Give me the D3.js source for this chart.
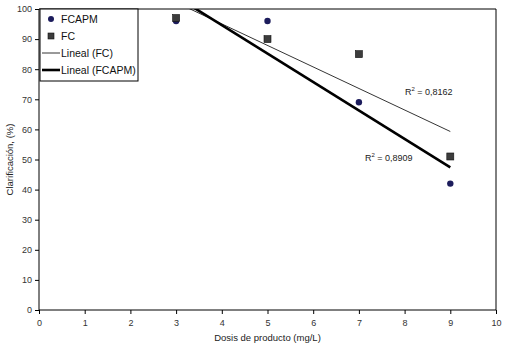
<!DOCTYPE html>
<html>
<head>
<meta charset="utf-8">
<script src="https://cdn.jsdelivr.net/npm/d3@7"></script>
<style>
  body { margin: 0; background: #fff; }
  svg { font-family: "Liberation Sans", Arial, sans-serif; }
  .axis text { font-size: 9px; fill: #333; }
  .axis path, .axis line { stroke: #000; }
</style>
</head>
<body>
<svg width="505" height="349"></svg>
<script>
const WIDTH = 505, HEIGHT = 349

// data
const doses = [3, 5, 7, 9]
const fcapm = [96, 96, 69, 42]
const fc = [97, 90, 85, 51]
const xTicks = [0, 1, 2, 3, 4, 5, 6, 7, 8, 9, 10]
const yTicks = [0, 10, 20, 30, 40, 50, 60, 70, 80, 90, 100]
const r2Labels = ['0,8162', '0,8909']

const margin = { top: 9, right: 9, bottom: 39, left: 39 }
const innerW = WIDTH - margin.left - margin.right
const innerH = HEIGHT - margin.top - margin.bottom

const svg = d3.select('svg')

const xScale = d3.scaleLinear().domain([0, 10]).range([margin.left, margin.left + innerW])
const yScale = d3.scaleLinear().domain([0, 100]).range([margin.top + innerH, margin.top])

// least squares fit for the trend lines
function fit(xs, ys) {
  const mx = d3.mean(xs), my = d3.mean(ys)
  const sxy = d3.sum(xs, (x, i) => (x - mx) * (ys[i] - my))
  const sxx = d3.sum(xs, x => (x - mx) * (x - mx))
  const b = sxy / sxx
  return x => my + b * (x - mx)
}
const fcLine = fit(doses, fc)
const fcapmLine = fit(doses, fcapm)

svg.append('clipPath').attr('id', 'plot')
  .append('rect')
  .attr('x', margin.left).attr('y', margin.top)
  .attr('width', innerW).attr('height', innerH)

// frame top + right
svg.append('path')
  .attr('d', `M${xScale(0)},${yScale(100)}H${xScale(10)}V${yScale(0)}`)
  .attr('fill', 'none').attr('stroke', '#000').attr('stroke-width', 1)

const axisX = d3.axisBottom(xScale).tickValues(xTicks).tickSize(4).tickPadding(6)
svg.append('g').attr('class', 'axis')
  .attr('transform', `translate(0, ${yScale(0)})`)
  .call(axisX)
  .call(g => g.select('.domain').attr('d', `M${xScale(0)},0H${xScale(10)}`))

const axisY = d3.axisLeft(yScale).tickValues(yTicks).tickSize(4).tickPadding(3)
svg.append('g').attr('class', 'axis')
  .attr('transform', `translate(${xScale(0)}, 0)`)
  .call(axisY)
  .call(g => g.select('.domain').attr('d', `M0,${yScale(0)}V${yScale(100)}`))

const line = d3.line().x(d => xScale(d[0])).y(d => yScale(d[1]))
const trends = svg.append('g').attr('clip-path', 'url(#plot)')
trends.append('path')
  .attr('d', line([[3, fcLine(3)], [9, fcLine(9)]]))
  .attr('stroke', '#000').attr('stroke-width', 0.8).attr('fill', 'none')
trends.append('path')
  .attr('d', line([[3, fcapmLine(3)], [9, fcapmLine(9)]]))
  .attr('stroke', '#000').attr('stroke-width', 2.6).attr('fill', 'none')

svg.selectAll('.fcapm').data(doses).enter().append('circle')
  .attr('class', 'fcapm')
  .attr('cx', d => xScale(d))
  .attr('cy', (d, i) => yScale(fcapm[i]))
  .attr('r', 3.2)
  .attr('fill', '#1c1c5c')

svg.selectAll('.fc').data(doses).enter().append('rect')
  .attr('class', 'fc')
  .attr('x', d => xScale(d) - 3.5)
  .attr('y', (d, i) => yScale(fc[i]) - 3.5)
  .attr('width', 7).attr('height', 7)
  .attr('fill', '#3c3c3c').attr('stroke', '#111').attr('stroke-width', 0.6)

// R² labels
function r2(x, y, val) {
  const t = svg.append('text').attr('x', x).attr('y', y)
    .attr('font-size', 9).attr('fill', '#222')
  t.append('tspan').text('R')
  t.append('tspan').text('2').attr('font-size', 6).attr('dy', -4)
  t.append('tspan').text(' = ' + val).attr('dy', 4)
}
r2(405, 95, r2Labels[0])
r2(365, 161, r2Labels[1])

// legend
const legend = svg.append('g')
legend.append('rect')
  .attr('x', 40).attr('y', 9).attr('width', 98).attr('height', 72)
  .attr('fill', '#fff').attr('stroke', '#000').attr('stroke-width', 1)
const legendRows = [
  { label: 'FCAPM', type: 'circle', y: 19 },
  { label: 'FC', type: 'square', y: 36 },
  { label: 'Lineal (FC)', type: 'thin', y: 53 },
  { label: 'Lineal (FCAPM)', type: 'thick', y: 70 }
]
legendRows.forEach(r => {
  if (r.type === 'circle') {
    legend.append('circle').attr('cx', 51).attr('cy', r.y).attr('r', 3).attr('fill', '#1c1c5c')
  } else if (r.type === 'square') {
    legend.append('rect').attr('x', 48).attr('y', r.y - 3).attr('width', 6).attr('height', 6)
      .attr('fill', '#3c3c3c').attr('stroke', '#111').attr('stroke-width', 0.6)
  } else {
    legend.append('line').attr('x1', 42).attr('x2', 60).attr('y1', r.y).attr('y2', r.y)
      .attr('stroke', '#000').attr('stroke-width', r.type === 'thick' ? 2.6 : 0.8)
  }
  legend.append('text').attr('x', 61).attr('y', r.y + 4)
    .attr('font-size', 10.5).attr('fill', '#111').text(r.label)
})

// axis titles
svg.append('text')
  .attr('x', xScale(5)).attr('y', 341)
  .attr('text-anchor', 'middle').attr('font-size', 9.5).attr('fill', '#222')
  .text('Dosis de producto (mg/L)')

svg.append('text')
  .attr('transform', `translate(13, ${yScale(50)}) rotate(-90)`)
  .attr('text-anchor', 'middle').attr('font-size', 9.5).attr('fill', '#222')
  .text('Clarificación, (%)')
</script>
</body>
</html>
